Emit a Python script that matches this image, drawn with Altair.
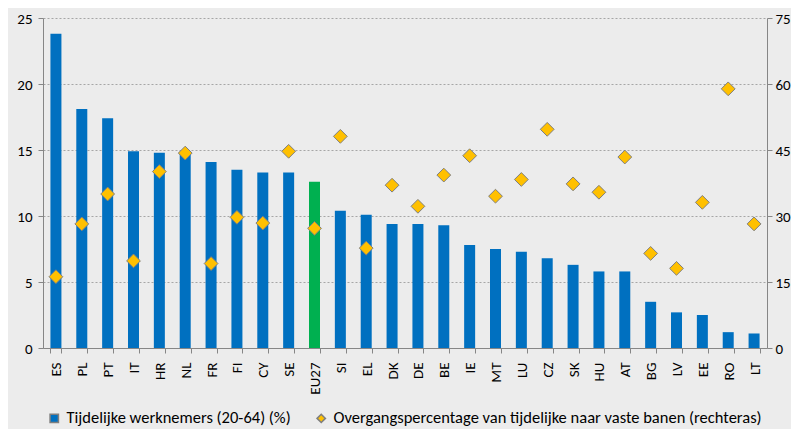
import altair as alt
import pandas as pd

countries = ["ES", "PL", "PT", "IT", "HR", "NL", "FR", "FI", "CY", "SE", "EU27", "SI", "EL", "DK",
             "DE", "BE", "IE", "MT", "LU", "CZ", "SK", "HU", "AT", "BG", "LV", "EE", "RO", "LT"]
temp_share = [23.8, 18.1, 17.4, 14.9, 14.8, 14.7, 14.1, 13.5, 13.3, 13.3, 12.6, 10.4, 10.1, 9.4,
              9.4, 9.3, 7.8, 7.5, 7.3, 6.8, 6.3, 5.8, 5.8, 3.5, 2.7, 2.5, 1.2, 1.1]
transition = [16.2, 28.2, 35.0, 19.8, 40.1, 44.3, 19.2, 29.7, 28.4, 44.7, 27.2, 48.1, 22.7, 37.0,
              32.2, 39.3, 43.7, 34.5, 38.3, 49.7, 37.3, 35.4, 43.4, 21.5, 18.1, 33.1, 58.9, 28.2]

S1 = "Tijdelijke werknemers (20-64) (%)"
S2 = "Overgangspercentage van tijdelijke naar vaste banen (rechteras)"
HL = "EU27"

df = pd.DataFrame({"country": countries, "share": temp_share, "rate": transition})
df["bar_series"] = [HL if c == HL else S1 for c in countries]
df["pt_series"] = S2

domain = [S1, S2, HL]
color_scale = alt.Scale(domain=domain, range=["#0070C0", "#FFC000", "#00B050"])
shape_scale = alt.Scale(domain=domain, range=["square", "diamond", "square"])

FONT = "Carlito, Lato, sans-serif"
AXC = "#868686"

legend = alt.Legend(title=None, orient="none", legendX=3, legendY=392, direction="horizontal",
                    values=[S1, S2], symbolSize=70, labelFontSize=16.5, labelFont=FONT,
                    labelColor="#000000", columnPadding=22, labelOffset=4, labelLimit=700)

x = alt.X("country:N", sort=countries, title=None,
          scale=alt.Scale(paddingInner=0.58, paddingOuter=0.29),
          axis=alt.Axis(labelAngle=-90, labelFontSize=15, labelFont=FONT, labelColor="#000000",
                        tickBand="extent", tickColor=AXC, domainColor=AXC, tickSize=5,
                        labelPadding=9))

bars = alt.Chart(df).mark_bar(size=11).encode(
    x=x,
    y=alt.Y("share:Q", scale=alt.Scale(domain=[0, 25], nice=False),
            axis=alt.Axis(orient="left", values=[0, 5, 10, 15, 20, 25], grid=True,
                          gridDash=[2, 2], gridColor="#a6a6a6", domainColor=AXC, tickColor=AXC,
                          tickSize=5, labelFontSize=15, labelFont=FONT, labelColor="#000000",
                          labelPadding=6, title=None)),
    color=alt.Color("bar_series:N", scale=color_scale, legend=legend),
)

points = alt.Chart(df).mark_point(filled=True, size=190, stroke="#7f7f7f", strokeWidth=1,
                                   opacity=1).encode(
    x=x,
    y=alt.Y("rate:Q", scale=alt.Scale(domain=[0, 75], nice=False),
            axis=alt.Axis(orient="right", values=[0, 15, 30, 45, 60, 75], grid=False,
                          domainColor=AXC, tickColor=AXC, tickSize=5, labelFontSize=15,
                          labelFont=FONT, labelColor="#000000", labelPadding=3, title=None)),
    color=alt.Color("pt_series:N", scale=color_scale, legend=legend),
    shape=alt.Shape("pt_series:N", scale=shape_scale, legend=legend),
)

chart = alt.layer(bars, points).resolve_scale(y="independent").properties(
    width=724, height=330, background="#ececec",
    padding={"left": 35, "top": 10, "right": 24, "bottom": 81},
    autosize=alt.AutoSizeParams(type="none"),
).configure_view(stroke=None)

chart.save("out.html", embed_options={"renderer": "svg", "actions": False})
